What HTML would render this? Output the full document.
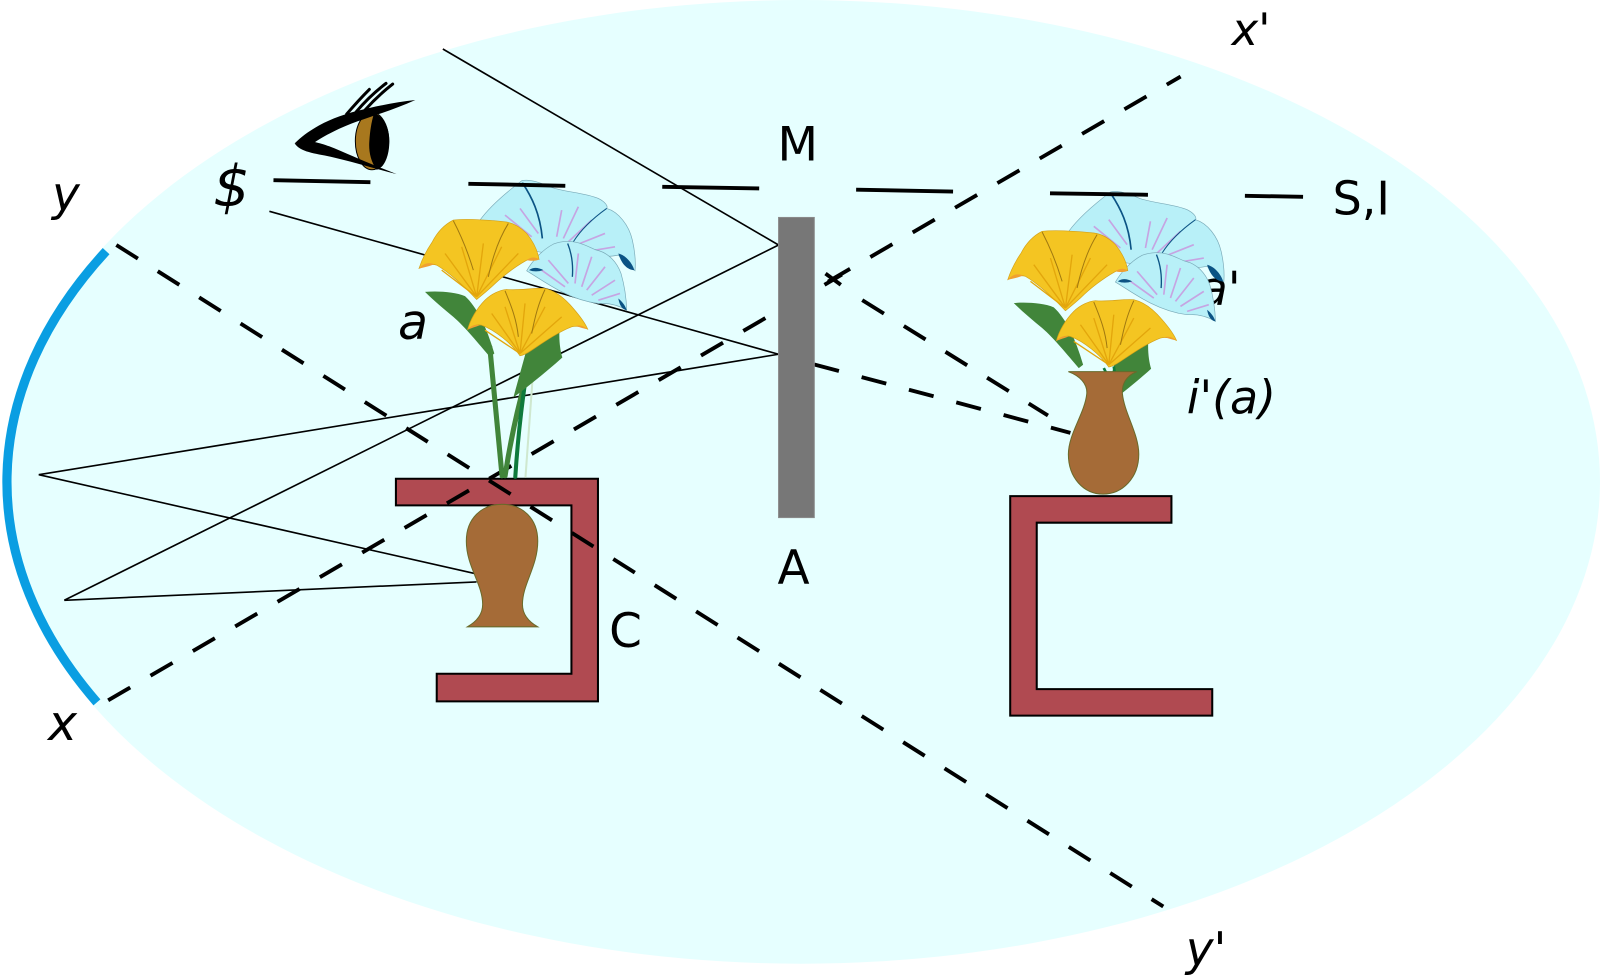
<!DOCTYPE html>
<html><head><meta charset="utf-8"><style>
html,body{margin:0;padding:0;background:#fff;}
svg{display:block;}
text{font-family:"DejaVu Sans","Liberation Sans",sans-serif;fill:#000;}
</style></head><body>
<svg width="1600" height="978" viewBox="0 0 1568 958" preserveAspectRatio="none" xmlns="http://www.w3.org/2000/svg">
<!-- background ellipse -->
<ellipse cx="785" cy="472" rx="783" ry="472" fill="#e6ffff"/>
<!-- blue arc -->
<path d="M104,246 A778,467 0 0 0 95,688" fill="none" stroke="#0a9ee2" stroke-width="9"/>

<!-- labels -->
<text x="51" y="206" font-size="46" font-style="italic">y</text>
<text x="47" y="725" font-size="48" font-style="italic">x</text>
<text x="1207" y="44" font-size="44" font-style="italic">x'</text>
<text x="1162" y="946" font-size="46" font-style="italic">y'</text>
<text x="209" y="202" font-size="56" font-style="italic">$</text>
<text x="762" y="157" font-size="46">M</text>
<text x="762" y="572" font-size="46">A</text>
<text x="597" y="634" font-size="46">C</text>
<text x="1306" y="210" font-size="45">S,I</text>
<text x="390" y="332" font-size="48" font-style="italic">a</text>
<text x="1175" y="299" font-size="46" font-style="italic">a'</text>
<text x="1163" y="405" font-size="45" font-style="italic">i'(a)</text>

<!-- eye -->
<g transform="translate(274.4,68.6) scale(0.3267)">
 <ellipse cx="276" cy="213" rx="50" ry="86" fill="#a8781e" stroke="#000" stroke-width="3"/>
 <path d="M282,130 C312,138 328,175 328,213 C328,257 313,293 290,299 C270,272 266,240 268,213 C270,180 275,153 282,130 Z" fill="#000"/>
 <path d="M44,220 C88,176 150,144 230,123 C290,108 350,96 406,90 C354,114 302,130 250,148 C188,168 138,194 102,218 Z" fill="#000"/>
 <path d="M44,220 C60,246 105,250 152,260 C222,276 285,296 350,312 C292,290 232,264 162,234 C125,220 100,214 90,214 Z" fill="#000"/>
 <path d="M200,132 Q236,90 268,58 M228,126 Q268,78 318,40 M255,120 Q292,78 338,42" stroke="#000" stroke-width="9" fill="none" stroke-linecap="round"/>
</g>

<!-- thin solid rays -->
<g stroke="#000" stroke-width="1.6" fill="none">
 <line x1="434" y1="48" x2="763" y2="240"/>
 <line x1="264" y1="207" x2="763" y2="347"/>
 <line x1="763" y1="240" x2="63" y2="588"/>
 <line x1="763" y1="347" x2="38" y2="465"/>
 <line x1="38" y1="465" x2="466" y2="562"/>
 <line x1="63" y1="588" x2="467" y2="570"/>
</g>

<!-- stands -->
<path d="M388,469 L586,469 L586,687 L428,687 L428,660 L560,660 L560,495 L388,495 Z" fill="#b04a51" stroke="#000" stroke-width="2"/>
<path d="M990,486 L1148,486 L1148,512 L1016,512 L1016,675 L1188,675 L1188,701 L990,701 Z" fill="#b04a51" stroke="#000" stroke-width="2"/>

<!-- dashed lines -->
<g stroke="#000" stroke-width="3.8" fill="none" stroke-dasharray="25 23">
 <line x1="114" y1="240" x2="1140" y2="888"/>
 <line x1="106" y1="686" x2="1157" y2="75"/>
 <line x1="798" y1="357" x2="1049" y2="424"/>
 <line x1="845" y1="294" x2="1027" y2="407"/>
</g>
<g stroke="#000" stroke-width="3.8">
 <line x1="808" y1="279" x2="825" y2="269"/>
 <line x1="809" y1="268" x2="824" y2="279"/>
</g>

<!-- left vase -->
<path d="M492,494 C512,494 527,508 527,530 C527,555 512,572 512,592 C512,603 520,610 527,614 L458,614 C465,610 473,603 473,592 C473,572 457,555 457,530 C457,508 472,494 492,494 Z" fill="#a56b37" stroke="#6a6a2a" stroke-width="1"/>

<!-- mirror -->
<rect x="763" y="213" width="35" height="294" fill="#777777" stroke="#8a8a8a" stroke-width="1"/>

<!-- left stems -->
<g fill="none" stroke-linecap="round">
 <path d="M492,466 C488,420 484,380 480,340" stroke="#41853a" stroke-width="5"/>
 <path d="M495,466 C502,420 512,380 523,346" stroke="#41853a" stroke-width="5"/>
 <path d="M505,467 C508,420 513,385 518,350" stroke="#0e7a3c" stroke-width="4"/>
 <path d="M515,467 L522,370" stroke="#cfe8cf" stroke-width="2"/>
</g>

<!-- left flower heads -->
<g transform="translate(396.9,166.6) scale(0.3267)">
 <path d="M225,150 C250,115 300,70 350,32 C375,25 410,40 440,52 C480,66 540,68 580,85 C600,95 610,108 605,115 C640,125 672,165 682,210 C690,245 692,280 690,302 C675,290 655,270 640,255 C600,262 540,262 480,255 C420,250 350,240 300,215 C270,195 240,170 225,150 Z" fill="#b8f0f8" stroke="#7aaab8" stroke-width="2"/>
 <path d="M300,135 L380,200 M345,115 L400,190 M470,120 L455,200 M520,110 L475,205 M560,150 L490,215 M600,190 L500,230 M630,230 L540,245" stroke="#c6a4e2" stroke-width="5" fill="none"/>
 <path d="M352,38 C380,80 405,130 412,205" stroke="#0b5384" stroke-width="5" fill="none"/>
 <path d="M605,115 C570,140 530,175 505,215" stroke="#0b5384" stroke-width="3" fill="none"/>
 <path d="M640,250 C660,255 680,275 688,300 C670,300 650,285 640,250 Z" fill="#0b5384"/>
 <path d="M365,302 C380,275 410,240 445,222 C470,212 500,212 520,218 C545,225 560,235 575,240 C610,248 635,275 648,310 C658,345 664,385 665,420 C640,405 610,398 580,400 C540,395 500,380 470,365 C430,345 395,320 365,302 Z" fill="#b8f0f8" stroke="#7aaab8" stroke-width="2"/>
 <path d="M410,300 L480,350 M430,270 L490,340 M520,250 L510,340 M560,260 L530,350 M600,290 L545,360 M630,330 L560,375 M645,370 L580,390" stroke="#c6a4e2" stroke-width="5" fill="none"/>
 <path d="M488,220 C500,250 505,280 502,320" stroke="#0b5384" stroke-width="4" fill="none"/>
 <path d="M372,300 C385,290 400,292 415,300 C400,305 385,305 372,300 Z" fill="#0b5384"/>
 <path d="M640,385 C652,395 660,405 665,420 C652,418 643,405 640,385 Z" fill="#0b5384"/>
 <path d="M60,365 C100,362 150,365 180,378 C215,410 245,470 268,550 L255,560 C220,520 180,470 145,440 C115,415 85,390 60,365 Z" fill="#41853a"/>
 <path d="M362,548 C390,520 430,490 465,465 C460,500 465,540 472,562 C430,600 380,640 325,682 Z" fill="#41853a"/>
 <path d="M215,388 C180,350 130,305 95,285 C80,280 62,285 42,295 C50,270 65,240 82,215 C95,190 115,165 145,150 C190,145 250,150 300,155 C325,158 345,170 365,190 C385,215 398,240 402,268 C390,262 375,265 362,272 C330,290 290,320 260,350 C240,368 225,380 215,388 Z" fill="#f4c522" stroke="#d4a017" stroke-width="2"/>
 <path d="M215,380 L120,250 M215,380 L170,230 M215,380 L235,220 M215,380 L290,230 M215,380 L340,250 M215,380 L110,300" stroke="#e3a60c" stroke-width="4" fill="none"/>
 <path d="M145,152 C170,200 190,250 205,300 M310,160 C285,200 265,250 250,320" stroke="#a07810" stroke-width="3" fill="none"/>
 <path d="M42,295 C55,280 70,275 88,282 C75,288 58,292 42,295 Z M402,268 C392,260 378,260 364,270 C378,273 392,273 402,268 Z" fill="#f0a030"/>
 <path d="M345,557 C320,520 270,480 230,465 C215,462 200,468 188,478 C195,450 215,415 240,390 C260,370 285,360 305,358 C345,362 385,352 420,355 C450,362 480,385 505,415 C525,438 540,458 548,477 C535,470 515,466 500,470 C460,485 410,520 380,540 C365,550 352,556 345,557 Z" fill="#f4c522" stroke="#d4a017" stroke-width="2"/>
 <path d="M345,550 L260,430 M345,550 L300,410 M345,550 L360,400 M345,550 L420,410 M345,550 L470,440 M345,550 L240,480" stroke="#e3a60c" stroke-width="4" fill="none"/>
 <path d="M300,362 C320,410 335,450 340,500 M420,358 C400,400 390,440 380,490" stroke="#a07810" stroke-width="3" fill="none"/>
 <path d="M188,478 C198,466 210,462 225,465 C212,470 200,474 188,478 Z M548,477 C538,468 525,464 512,467 C525,472 538,476 548,477 Z" fill="#f0a030"/>
</g>

<!-- right flower heads -->
<g transform="translate(973.9,177.6) scale(0.3267)">
 <path d="M225,150 C250,115 300,70 350,32 C375,25 410,40 440,52 C480,66 540,68 580,85 C600,95 610,108 605,115 C640,125 672,165 682,210 C690,245 692,280 690,302 C675,290 655,270 640,255 C600,262 540,262 480,255 C420,250 350,240 300,215 C270,195 240,170 225,150 Z" fill="#b8f0f8" stroke="#7aaab8" stroke-width="2"/>
 <path d="M300,135 L380,200 M345,115 L400,190 M470,120 L455,200 M520,110 L475,205 M560,150 L490,215 M600,190 L500,230 M630,230 L540,245" stroke="#c6a4e2" stroke-width="5" fill="none"/>
 <path d="M352,38 C380,80 405,130 412,205" stroke="#0b5384" stroke-width="5" fill="none"/>
 <path d="M605,115 C570,140 530,175 505,215" stroke="#0b5384" stroke-width="3" fill="none"/>
 <path d="M640,250 C660,255 680,275 688,300 C670,300 650,285 640,250 Z" fill="#0b5384"/>
 <path d="M365,302 C380,275 410,240 445,222 C470,212 500,212 520,218 C545,225 560,235 575,240 C610,248 635,275 648,310 C658,345 664,385 665,420 C640,405 610,398 580,400 C540,395 500,380 470,365 C430,345 395,320 365,302 Z" fill="#b8f0f8" stroke="#7aaab8" stroke-width="2"/>
 <path d="M410,300 L480,350 M430,270 L490,340 M520,250 L510,340 M560,260 L530,350 M600,290 L545,360 M630,330 L560,375 M645,370 L580,390" stroke="#c6a4e2" stroke-width="5" fill="none"/>
 <path d="M488,220 C500,250 505,280 502,320" stroke="#0b5384" stroke-width="4" fill="none"/>
 <path d="M372,300 C385,290 400,292 415,300 C400,305 385,305 372,300 Z" fill="#0b5384"/>
 <path d="M640,385 C652,395 660,405 665,420 C652,418 643,405 640,385 Z" fill="#0b5384"/>
 <path d="M60,365 C100,362 150,365 180,378 C215,410 245,470 268,550 L255,560 C220,520 180,470 145,440 C115,415 85,390 60,365 Z" fill="#41853a"/>
 <path d="M362,548 C390,520 430,490 465,465 C460,500 465,540 472,562 C430,600 380,640 325,682 Z" fill="#41853a"/>
 <path d="M330,560 L345,590 M360,555 L365,590" stroke="#0e7a3c" stroke-width="8" fill="none"/>
 <path d="M215,388 C180,350 130,305 95,285 C80,280 62,285 42,295 C50,270 65,240 82,215 C95,190 115,165 145,150 C190,145 250,150 300,155 C325,158 345,170 365,190 C385,215 398,240 402,268 C390,262 375,265 362,272 C330,290 290,320 260,350 C240,368 225,380 215,388 Z" fill="#f4c522" stroke="#d4a017" stroke-width="2"/>
 <path d="M215,380 L120,250 M215,380 L170,230 M215,380 L235,220 M215,380 L290,230 M215,380 L340,250 M215,380 L110,300" stroke="#e3a60c" stroke-width="4" fill="none"/>
 <path d="M145,152 C170,200 190,250 205,300 M310,160 C285,200 265,250 250,320" stroke="#a07810" stroke-width="3" fill="none"/>
 <path d="M42,295 C55,280 70,275 88,282 C75,288 58,292 42,295 Z M402,268 C392,260 378,260 364,270 C378,273 392,273 402,268 Z" fill="#f0a030"/>
 <path d="M345,557 C320,520 270,480 230,465 C215,462 200,468 188,478 C195,450 215,415 240,390 C260,370 285,360 305,358 C345,362 385,352 420,355 C450,362 480,385 505,415 C525,438 540,458 548,477 C535,470 515,466 500,470 C460,485 410,520 380,540 C365,550 352,556 345,557 Z" fill="#f4c522" stroke="#d4a017" stroke-width="2"/>
 <path d="M345,550 L260,430 M345,550 L300,410 M345,550 L360,400 M345,550 L420,410 M345,550 L470,440 M345,550 L240,480" stroke="#e3a60c" stroke-width="4" fill="none"/>
 <path d="M300,362 C320,410 335,450 340,500 M420,358 C400,400 390,440 380,490" stroke="#a07810" stroke-width="3" fill="none"/>
 <path d="M188,478 C198,466 210,462 225,465 C212,470 200,474 188,478 Z M548,477 C538,468 525,464 512,467 C525,472 538,476 548,477 Z" fill="#f0a030"/>
</g>

<!-- right vase -->
<path d="M1047,364 L1114,364 C1104,368 1099,376 1100,386 C1102,405 1116,425 1116,445 C1116,468 1100,484 1081,484 C1062,484 1047,468 1047,445 C1047,425 1063,405 1065,386 C1066,376 1058,368 1047,364 Z" fill="#a56b37" stroke="#6a6a2a" stroke-width="1"/>

<!-- S,I horizontal segments -->
<g stroke="#000" stroke-width="3.8">
 <line x1="268" y1="176.5" x2="363" y2="178.5"/>
 <line x1="459" y1="180" x2="554" y2="182"/>
 <line x1="649" y1="183" x2="744" y2="184.6"/>
 <line x1="839" y1="185.8" x2="934" y2="187.7"/>
 <line x1="1029" y1="189.3" x2="1125" y2="190.8"/>
 <line x1="1220" y1="191.8" x2="1277" y2="192.8"/>
</g>
</svg>
</body></html>
